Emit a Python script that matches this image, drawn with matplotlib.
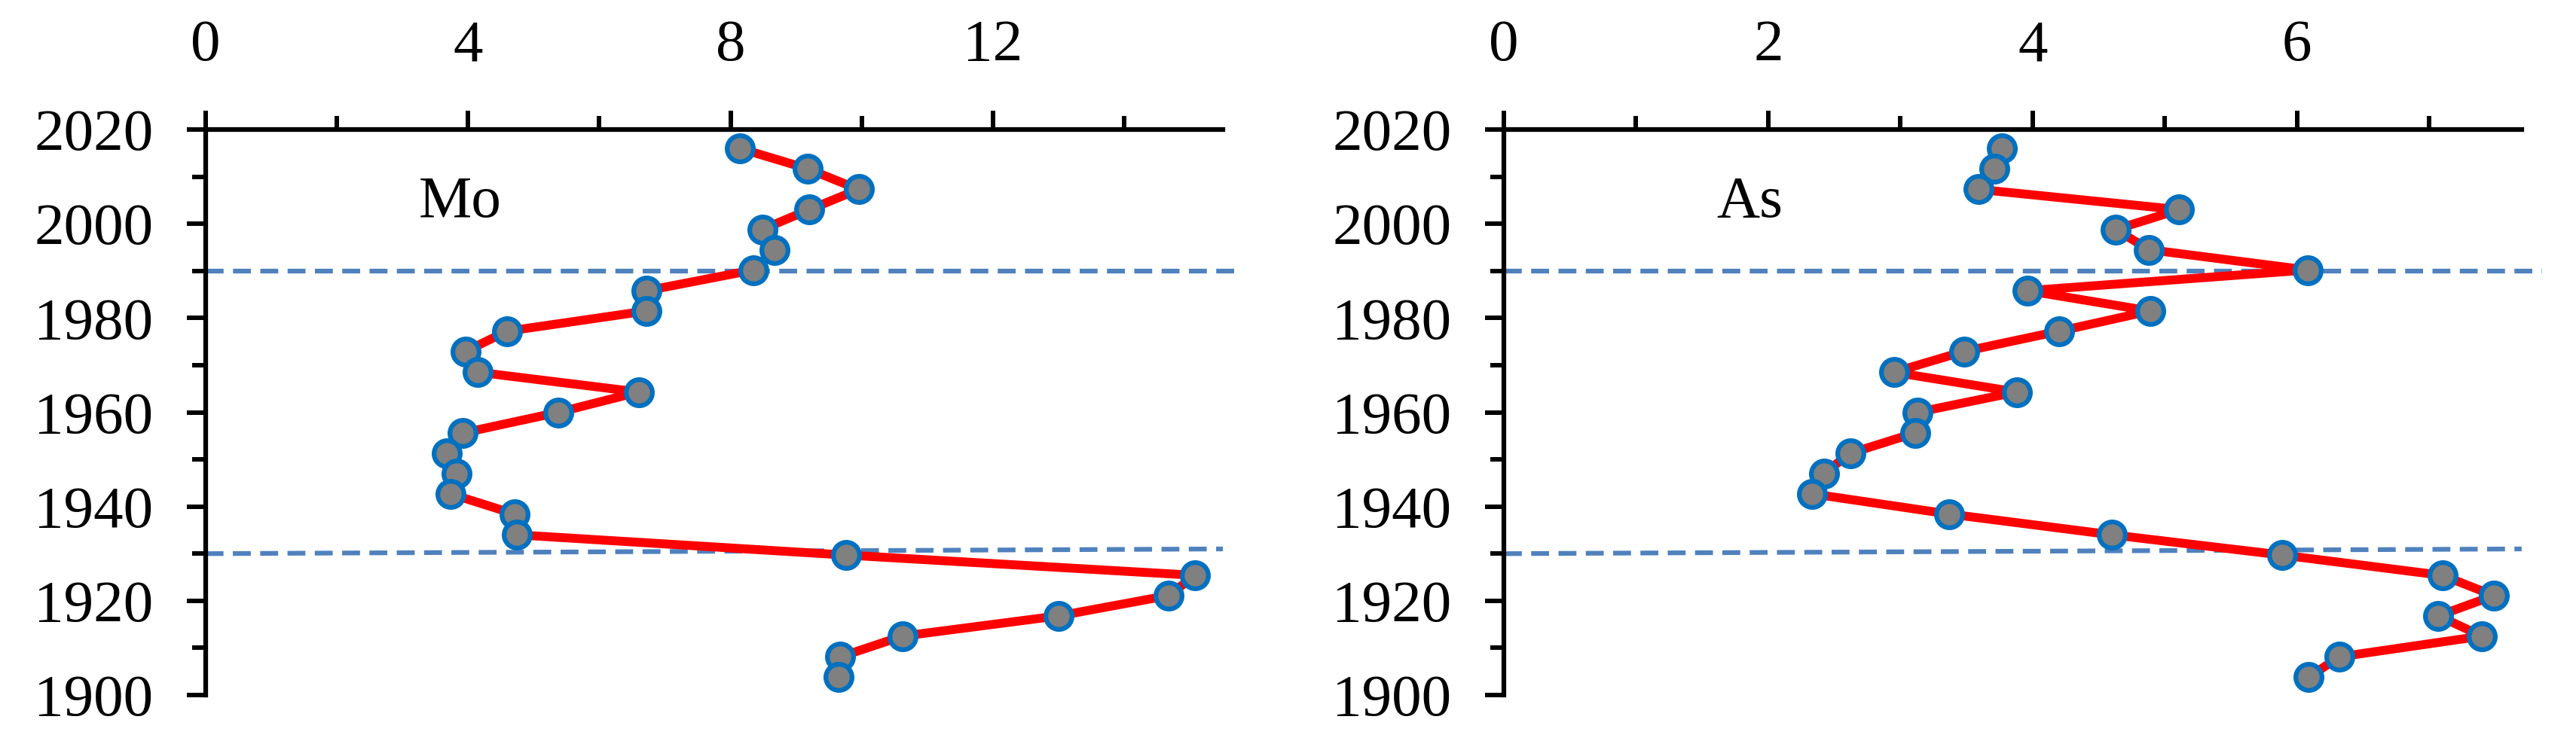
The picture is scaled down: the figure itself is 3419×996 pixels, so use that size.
import numpy as np
import matplotlib
matplotlib.use("Agg")
import matplotlib.pyplot as plt
from matplotlib.ticker import MultipleLocator

# sampling years (core depth converted to year)
years = [2016.0, 2011.7, 2007.3, 2003.0, 1998.8, 1994.5, 1990.2, 1985.8, 1981.5,
         1977.2, 1972.9, 1968.5, 1964.3, 1960.0, 1955.6, 1951.3, 1947.0, 1942.7,
         1938.4, 1934.0, 1929.7, 1925.4, 1921.1, 1916.8, 1912.5, 1908.1, 1903.8]

mo_values = [8.14, 9.17, 9.95, 9.20, 8.48, 8.67, 8.35, 6.72, 6.72, 4.59, 3.96,
             4.15, 6.60, 5.38, 3.92, 3.67, 3.83, 3.73, 4.71, 4.74, 9.76, 15.08,
             14.67, 13.00, 10.62, 9.67, 9.64]

as_values = [3.77, 3.71, 3.59, 5.11, 4.63, 4.88, 6.08, 3.96, 4.89, 4.20, 3.48,
             2.95, 3.88, 3.13, 3.11, 2.62, 2.42, 2.33, 3.37, 4.60, 5.89, 7.10,
             7.49, 7.07, 7.40, 6.32, 6.09]

panels = [
    # name, values, x max, major step, label position (baseline)
    ("Mo", mo_values, 15.5, 4, (3.88, 2001.5)),
    ("As", as_values, 7.7, 2, (1.86, 2001.5)),
]
boundary_years = [1990, 1930]

plt.rcParams['font.family'] = ['Liberation Serif', 'DejaVu Serif']

fig = plt.figure(figsize=(34.19, 9.96), dpi=100)
axes_pos = [[0.0798, 0.0733, 0.3949, 0.754],
            [0.5838, 0.0733, 0.3951, 0.754]]


def style_axis(ax, xmax, step):
    ax.set_xlim(0, xmax)
    ax.set_ylim(1900, 2020)
    ax.xaxis.tick_top()
    ax.spines['bottom'].set_visible(False)
    ax.spines['right'].set_visible(False)
    for s in ('top', 'left'):
        ax.spines[s].set_linewidth(4.5)
        ax.spines[s].set_color('black')
    ax.xaxis.set_major_locator(MultipleLocator(step))
    ax.xaxis.set_minor_locator(MultipleLocator(step / 2))
    ax.yaxis.set_major_locator(MultipleLocator(20))
    ax.yaxis.set_minor_locator(MultipleLocator(10))
    ax.tick_params(axis='x', which='major', length=18, width=4.3, pad=36,
                   labelsize=57, direction='out')
    ax.tick_params(axis='x', which='minor', length=13, width=4.3, direction='out')
    ax.tick_params(axis='y', which='major', length=18, width=4.3, pad=32,
                   labelsize=57, direction='out')
    ax.tick_params(axis='y', which='minor', length=13, width=4.3, direction='out')
    ax.xaxis.set_major_formatter(lambda v, p: f"{v:g}")


for pos, (name, vals, xmax, step, txt) in zip(axes_pos, panels):
    ax = fig.add_axes(pos)
    style_axis(ax, xmax, step)

    # dashed boundary lines (the lower one is slightly tilted, as drawn in the original)
    ax.plot([0, xmax * 1.02], [boundary_years[0], boundary_years[0]],
            color='#4F81BD', lw=4.5, dashes=(3.8, 2), clip_on=False, zorder=2)
    ax.plot([0, xmax], [boundary_years[1], boundary_years[1] + 1],
            color='#4F81BD', lw=4.5, dashes=(3.8, 2), clip_on=False, zorder=2)

    ax.plot(vals, years, color='red', lw=8.5, zorder=3, solid_joinstyle='round')
    ax.plot(vals, years, ls='none', marker='o', ms=25, mfc='#808080',
            mec='#0070C0', mew=4.5, zorder=4, clip_on=False)

    ax.text(txt[0], txt[1], name, fontsize=57, ha='center', va='baseline')

fig.savefig("out.png", dpi=100)
